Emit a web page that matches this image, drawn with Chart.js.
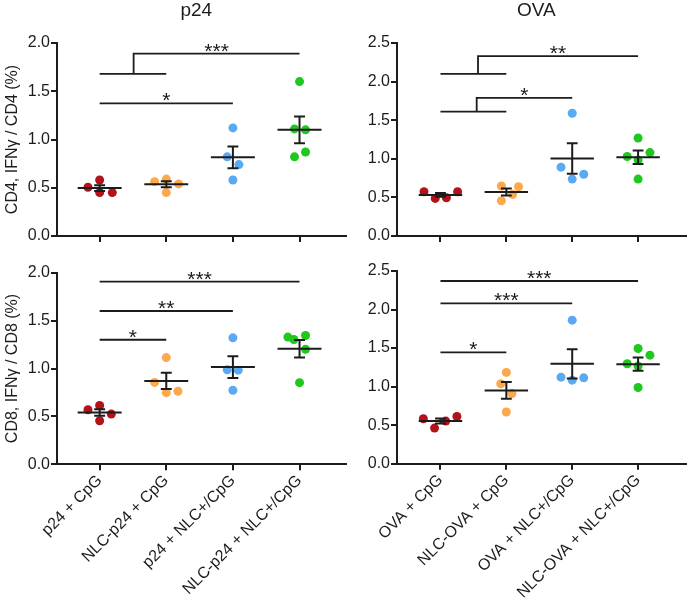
<!DOCTYPE html>
<html>
<head>
<meta charset="utf-8">
<script src="https://cdn.jsdelivr.net/npm/chart.js@4.4.1/dist/chart.umd.min.js"></script>
<style>
  body { margin: 0; background: #fff; width: 690px; height: 604px; position: relative; overflow: hidden; }
  canvas { position: absolute; }
</style>
</head>
<body>
<canvas id="p24cd4" width="350" height="250" style="left:0;top:0;width:350px;height:250px"></canvas>
<canvas id="ovacd4" width="345" height="250" style="left:345px;top:0;width:345px;height:250px"></canvas>
<canvas id="p24cd8" width="350" height="354" style="left:0;top:250px;width:350px;height:354px"></canvas>
<canvas id="ovacd8" width="345" height="354" style="left:345px;top:250px;width:345px;height:354px"></canvas>
<script>
// groups
const p24Groups = ["p24 + CpG", "NLC-p24 + CpG", "p24 + NLC+/CpG", "NLC-p24 + NLC+/CpG"];
const ovaGroups = ["OVA + CpG", "NLC-OVA + CpG", "OVA + NLC+/CpG", "NLC-OVA + NLC+/CpG"];
const groupColors = ["#b3121a", "#fba94c", "#5aa9f3", "#1ec81e"];

// % IFNg+ per mouse, one list per group
const p24Cd4 = [[0.505, 0.58, 0.45, 0.45], [0.563, 0.59, 0.45, 0.54], [1.12, 0.82, 0.74, 0.58], [1.60, 1.11, 1.10, 0.82, 0.87]];
const ovaCd4 = [[0.573, 0.487, 0.496, 0.573], [0.647, 0.638, 0.539, 0.457], [1.59, 0.892, 0.80, 0.737], [1.27, 1.03, 1.08, 0.983, 0.737]];
const p24Cd8 = [[0.569, 0.614, 0.524, 0.455], [1.114, 0.855, 0.762, 0.748], [1.32, 0.986, 0.983, 0.772], [1.328, 1.303, 1.345, 1.20, 0.852]];
const ovaCd8 = [[0.583, 0.462, 0.553, 0.613], [1.184, 1.037, 0.911, 0.67], [1.862, 1.123, 1.084, 1.114], [1.495, 1.408, 1.296, 1.266, 0.989]];

// horizontal scatter of the dots, in group units
const p24Cd4Dx = [[-0.175, 0, 0, 0.19], [-0.175, 0, 0, 0.185], [0, -0.085, 0.09, 0], [0, -0.075, 0.09, -0.075, 0.09]];
const ovaCd4Dx = [[-0.25, -0.08, 0.09, 0.26], [-0.075, 0.185, 0.095, -0.075], [0, -0.17, 0.175, 0], [0, -0.165, 0.18, 0, 0]];
const p24Cd8Dx = [[-0.175, 0, 0.175, 0], [0, -0.175, 0.175, 0], [0, -0.085, 0.08, 0], [-0.175, -0.085, 0.09, 0.09, 0]];
const ovaCd8Dx = [[-0.26, -0.09, 0.08, 0.25], [0, -0.085, 0.085, 0], [0, -0.17, 0, 0.175], [0, 0.18, -0.165, 0, 0]];

// significance bars
const p24Cd4Sig = [
  { x1: 0.51, x2: 3, y: 1.89, label: "***", base: { x1: 0, x2: 1, y: 1.68 } },
  { x1: 0, x2: 2, y: 1.375, label: "*" }
];
const ovaCd4Sig = [
  { x1: 0.57, x2: 3, y: 2.33, label: "**", base: { x1: 0, x2: 1, y: 2.10 } },
  { x1: 0.55, x2: 2, y: 1.79, label: "*", base: { x1: 0, x2: 1, y: 1.61 } }
];
const p24Cd8Sig = [
  { x1: 0, x2: 3, y: 1.906, label: "***" },
  { x1: 0, x2: 2, y: 1.60, label: "**" },
  { x1: 0, x2: 1, y: 1.30, label: "*" }
];
const ovaCd8Sig = [
  { x1: 0, x2: 3, y: 2.37, label: "***" },
  { x1: 0, x2: 2, y: 2.08, label: "***" },
  { x1: 0, x2: 1, y: 1.443, label: "*" }
];

const ink = "#1c1c1c";
const fontFamily = '"Liberation Sans", Arial, sans-serif';
Chart.defaults.font.family = fontFamily;
Chart.defaults.color = ink;

function mean(v) {
  return v.reduce((a, b) => a + b, 0) / v.length;
}
function sem(v) {
  const m = mean(v);
  const sd = Math.sqrt(v.reduce((a, b) => a + (b - m) * (b - m), 0) / (v.length - 1));
  return sd / Math.sqrt(v.length);
}

function meanSemPoints(values) {
  const pts = [];
  values.forEach(function (v, i) {
    const m = mean(v), s = sem(v);
    pts.push({ x: i - 0.33, y: m }, { x: i + 0.33, y: m }, { x: i, y: null });
    pts.push({ x: i, y: m - s }, { x: i, y: m + s }, { x: i, y: null });
    pts.push({ x: i - 0.082, y: m + s }, { x: i + 0.082, y: m + s }, { x: i, y: null });
    pts.push({ x: i - 0.082, y: m - s }, { x: i + 0.082, y: m - s }, { x: i, y: null });
  });
  return pts;
}

function bracketPoints(sig) {
  const pts = [];
  sig.forEach(function (b) {
    if (b.base) {
      pts.push({ x: b.base.x1, y: b.base.y }, { x: b.base.x2, y: b.base.y }, { x: 0, y: null });
      pts.push({ x: b.x1, y: b.base.y }, { x: b.x1, y: b.y }, { x: b.x2, y: b.y }, { x: 0, y: null });
    } else {
      pts.push({ x: b.x1, y: b.y }, { x: b.x2, y: b.y }, { x: 0, y: null });
    }
  });
  return pts;
}

const annotate = {
  id: "annotate",
  afterDatasetsDraw(chart, args, opts) {
    const ctx = chart.ctx, xs = chart.scales.x, ys = chart.scales.y, a = chart.chartArea;
    ctx.save();
    ctx.fillStyle = ink;
    ctx.textAlign = "center";
    ctx.textBaseline = "alphabetic";
    if (opts.title) {
      ctx.font = "19px " + fontFamily;
      ctx.fillText(opts.title, (a.left + a.right) / 2 - 5, 16);
    }
    ctx.font = "21px " + fontFamily;
    opts.sig.forEach(function (b) {
      ctx.fillText(b.label, xs.getPixelForValue((b.x1 + b.x2) / 2), ys.getPixelForValue(b.y) + 4);
    });
    ctx.restore();
  }
};

function makePanel(id, cfg) {
  const datasets = [
    {
      type: "line", data: bracketPoints(cfg.sig), borderColor: ink, borderWidth: 1.8,
      pointRadius: 0, spanGaps: false, borderJoinStyle: "miter", order: 0, clip: false
    },
    {
      type: "line", data: meanSemPoints(cfg.values), borderColor: ink, borderWidth: 2,
      pointRadius: 0, spanGaps: false, order: 0, clip: false
    }
  ];
  cfg.values.forEach(function (v, i) {
    datasets.push({
      data: v.map((y, k) => ({ x: i + cfg.dx[i][k], y: y })),
      backgroundColor: groupColors[i], borderWidth: 0, pointRadius: 4.5, order: 1
    });
  });

  new Chart(document.getElementById(id), {
    type: "scatter",
    data: { datasets: datasets },
    plugins: [annotate],
    options: {
      responsive: false,
      animation: false,
      layout: { padding: cfg.padding },
      plugins: {
        legend: { display: false },
        tooltip: { enabled: false },
        annotate: { title: cfg.title, sig: cfg.sig }
      },
      scales: {
        x: {
          type: "linear",
          min: cfg.xMin,
          max: cfg.xMax,
          afterBuildTicks: function (s) {
            s.ticks = cfg.labels.map((c, i) => ({ value: i }));
          },
          afterFit: function (s) { s.height = cfg.xHeight; },
          ticks: {
            display: cfg.showLabels,
            callback: function (v) { return cfg.labels[v]; },
            font: { size: 16 },
            color: ink,
            minRotation: 45,
            maxRotation: 45,
            padding: 1
          },
          grid: { drawOnChartArea: false, drawTicks: true, tickLength: 6, color: ink, lineWidth: 2 },
          border: { display: true, color: ink, width: 2 }
        },
        y: {
          min: 0,
          max: cfg.yMax,
          ticks: {
            stepSize: 0.5,
            callback: function (v) { return v.toFixed(1); },
            font: { size: 16 },
            color: ink,
            padding: 1
          },
          afterFit: function (s) { s.width = cfg.yWidth; },
          title: {
            display: !!cfg.yTitle,
            text: cfg.yTitle,
            font: { size: 16 },
            color: ink,
            padding: { top: 3, bottom: 0 }
          },
          grid: { drawOnChartArea: false, drawTicks: true, tickLength: 6, color: ink, lineWidth: 2 },
          border: { display: true, color: ink, width: 2 }
        }
      }
    }
  });
}

makePanel("p24cd4", {
  values: p24Cd4, dx: p24Cd4Dx, sig: p24Cd4Sig, labels: p24Groups, title: "p24",
  yTitle: "CD4, IFN\u03b3 / CD4 (%)", yMax: 2, xMin: -0.64, xMax: 3.69,
  yWidth: 57, xHeight: 10, showLabels: false,
  padding: { top: 43, right: 4, bottom: 4, left: 0 }
});
makePanel("ovacd4", {
  values: ovaCd4, dx: ovaCd4Dx, sig: ovaCd4Sig, labels: ovaGroups, title: "OVA",
  yTitle: "", yMax: 2.5, xMin: -0.66, xMax: 3.72,
  yWidth: 52, xHeight: 10, showLabels: false,
  padding: { top: 43, right: 0, bottom: 4, left: 0 }
});
makePanel("p24cd8", {
  values: p24Cd8, dx: p24Cd8Dx, sig: p24Cd8Sig, labels: p24Groups, title: "",
  yTitle: "CD8, IFN\u03b3 / CD8 (%)", yMax: 2, xMin: -0.64, xMax: 3.69,
  yWidth: 57, xHeight: 139.7, showLabels: true,
  padding: { top: 22.7, right: 4, bottom: 0, left: 0 }
});
makePanel("ovacd8", {
  values: ovaCd8, dx: ovaCd8Dx, sig: ovaCd8Sig, labels: ovaGroups, title: "",
  yTitle: "", yMax: 2.5, xMin: -0.66, xMax: 3.72,
  yWidth: 52, xHeight: 140.3, showLabels: true,
  padding: { top: 21, right: 0, bottom: 0, left: 0 }
});
</script>
</body>
</html>
